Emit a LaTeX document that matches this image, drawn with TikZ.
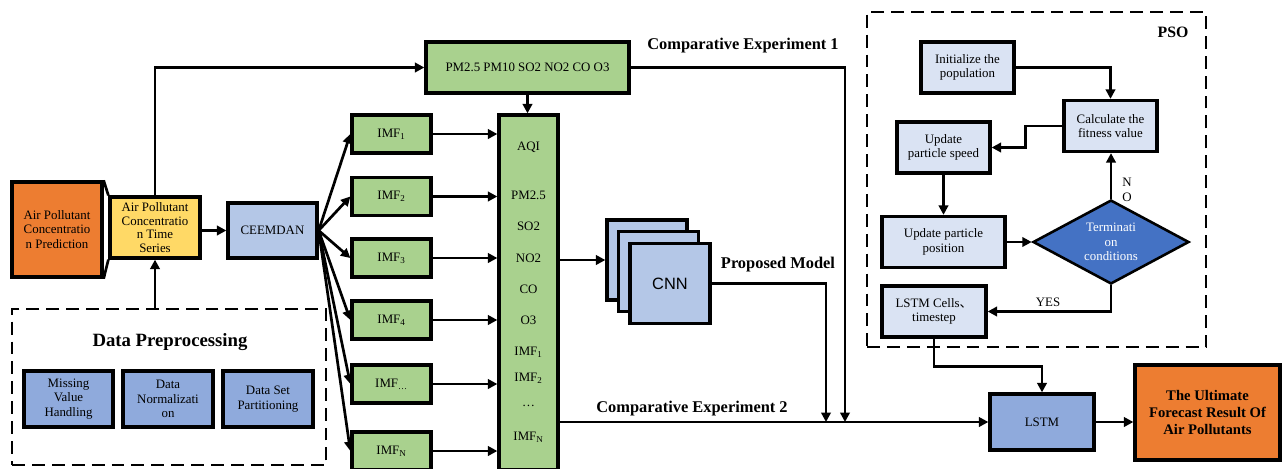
\documentclass[tikz,border=0pt]{standalone}
\usepackage{fontspec}
\setmainfont{Liberation Serif}
\setsansfont{Liberation Sans}
\newfontfamily\cjkfont{Noto Sans CJK SC}
\usetikzlibrary{arrows.meta}
\usetikzlibrary{shapes.geometric}
\definecolor{orng}{HTML}{ED7D31}
\definecolor{yel}{HTML}{FFD966}
\definecolor{lblue}{HTML}{B4C7E7}
\definecolor{mblue}{HTML}{8FAADC}
\definecolor{grn}{HTML}{A9D18E}
\definecolor{pale}{HTML}{DAE3F3}
\definecolor{dblue}{HTML}{4472C4}
\begin{document}
\begin{tikzpicture}[x=.03cm, y=-.03cm,
		box/.style={draw, line width=2.8pt, align=center, inner sep=1pt, font=\fontsize{11}{12.5}\selectfont},
		gbox/.style={box, fill=grn, minimum width=2.37cm, minimum height=1.14cm},
		pbox/.style={box, fill=pale, minimum width=2.79cm, minimum height=1.53cm},
		dbox/.style={draw, line width=1.7pt, dash pattern=on 11pt off 6pt, minimum width=#1},
		conn/.style={line width=2.3pt, -{Triangle[length=8pt,width=8pt]}},
		plain/.style={line width=2.3pt},
		lbl/.style={font=\bfseries\fontsize{14}{16}\selectfont},
		ctext/.style={font=\fontsize{11}{12.5}\selectfont}]
	\useasboundingbox (0,0) rectangle (1282,468);
	\node[box, fill=orng, minimum width=2.7cm, minimum height=2.85cm] (pred) at (57,229.5) {Air Pollutant\\Concentratio\\n Prediction};
	\node[box, fill=yel, minimum width=2.7cm, minimum height=1.83cm, font=\fontsize{11}{11.8}\selectfont] (series) at (155,227.5) {Air Pollutant\\Concentratio\\n Time\\Series};
	\node[box, fill=lblue, minimum width=2.67cm, minimum height=1.65cm] (ceemdan) at (272.5,230.5) {CEEMDAN};
	\draw[plain] (pred.north east) -- (series.north west);
	\draw[plain] (pred.south east) -- (series.south west);
	\draw[conn] (series.east |- ceemdan.west) -- (ceemdan.west);
	\node[dbox=9.42cm, minimum height=4.68cm] (prep) at (169,387) {};
	\node[font=\bfseries\fontsize{16}{18}\selectfont] (preptitle) at (170,342) {Data Preprocessing};
	\node[box, fill=mblue, minimum width=2.67cm, minimum height=1.68cm] (miss) at (68.5,399) {Missing\\Value\\Handling};
	\node[box, fill=mblue, minimum width=2.7cm, minimum height=1.68cm] (norm) at (168,399) {Data\\Normalizati\\on};
	\node[box, fill=mblue, minimum width=2.7cm, minimum height=1.68cm] (part) at (268,399) {Data Set\\Partitioning};
	\draw[conn] (prep.north -| series) -- (series.south);
	\node[box, fill=grn, minimum width=6.09cm, minimum height=1.53cm] (pm) at (527.5,67.5) {PM2.5 PM10 SO2 NO2 CO O3};
	\draw[conn] (series.north) |- (pm.west);
	\node[box, fill=grn, minimum width=1.77cm, minimum height=10.65cm] (col) at (528.5,292.5) {};
	\draw[conn] (pm.south) -- (pm.south |- col.north);
	\foreach \y/\t [count=\k] in {147/AQI, 195/PM2.5, 226/SO2, 258/NO2, 289/CO, 320/O3, 352/IMF\textsubscript{1}, 378/IMF\textsubscript{2}, 406/\ldots, 437/IMF\textsubscript{N}}
		\node[ctext] (item\k) at (528.5,\y) {\t};
	\foreach \y/\s [count=\k] in {134/1, 196.5/2, 258/3, 320/4, 384/\ldots, 451/N} {
		\node[gbox] (imf\k) at (391.5,\y) {IMF\textsubscript{\s}};
		\draw[conn] (ceemdan.east) -- (imf\k.west);
		\draw[conn] (imf\k.east) -- (imf\k.east -| col.west);
	}
	\node[box, fill=lblue, minimum size=2.4cm] (cnnA) at (647,260) {};
	\node[box, fill=lblue, minimum size=2.4cm] (cnnB) at (658.5,271.5) {};
	\node[box, fill=lblue, minimum size=2.4cm, font=\sffamily\fontsize{14}{16}\selectfont] (cnnC) at (670,283.5) {CNN};
	\draw[conn] (col.east |- cnnA.west) -- (cnnA.west);
	\node[box, fill=mblue, minimum width=3.12cm, minimum height=1.68cm] (lstm) at (1042,422) {LSTM};
	\node[box, fill=orng, minimum width=4.35cm, minimum height=2.85cm, font=\bfseries\fontsize{12.5}{14.5}\selectfont] (result) at (1207.5,412.5) {The Ultimate\\Forecast Result Of\\Air Pollutants};
	\draw[conn] (col.east |- lstm.west) -- (lstm.west);
	\draw[conn] (lstm.east) -- (lstm.east -| result.west);
	\coordinate (mergeA) at (826,422);
	\coordinate (mergeB) at (845,422);
	\draw[conn] (cnnC.east) -| (mergeA);
	\draw[conn] (pm.east) -| (mergeB);
	\node[lbl] (exp1) at (743,46) {Comparative Experiment 1};
	\node[lbl] (prop) at (778,265) {Proposed Model};
	\node[lbl] (exp2) at (692,409) {Comparative Experiment 2};
	\node[dbox=10.17cm, minimum height=10.05cm] (pso) at (1036.5,179.5) {};
	\node[font=\bfseries\fontsize{13.5}{15}\selectfont] (psotitle) at (1173,32) {PSO};
	\node[pbox] (init) at (967.5,67.5) {Initialize the\\population};
	\node[pbox] (calc) at (1110.5,126) {Calculate the\\fitness value};
	\node[pbox] (speed) at (943.5,147.5) {Update\\particle speed};
	\node[pbox, minimum width=3.69cm] (pos) at (943.5,242) {Update particle\\position};
	\node[diamond, draw, line width=2.2pt, fill=dblue, text=white, minimum width=4.68cm, minimum height=2.52cm, aspect=1.86, inner sep=0pt, align=center, font=\fontsize{11}{12.5}\selectfont] (cond) at (1111,242) {Terminati\\on\\conditions};
	\node[pbox, minimum width=3.12cm] (cells) at (934,311.5) {LSTM Cells{\cjkfont 、}\\timestep};
	\draw[conn] (init.east) -| (calc.north);
	\draw[conn] (calc.west) -- ++(-37,0) |- (speed.east);
	\draw[conn] (speed.south) -- (pos.north);
	\draw[conn] (pos.east) -- (cond.west);
	\draw[conn] (cond.north) -- (cond.north |- calc.south);
	\node[align=center, font=\fontsize{11}{13}\selectfont] (nolbl) at (1127,190) {N\\O};
	\draw[conn] (cond.south) |- (cells.east);
	\node[ctext] (yeslbl) at (1048,302) {YES};
	\draw[conn] (cells.south) -- ++(0,28) -| (lstm.north);
\end{tikzpicture}
\end{document}
